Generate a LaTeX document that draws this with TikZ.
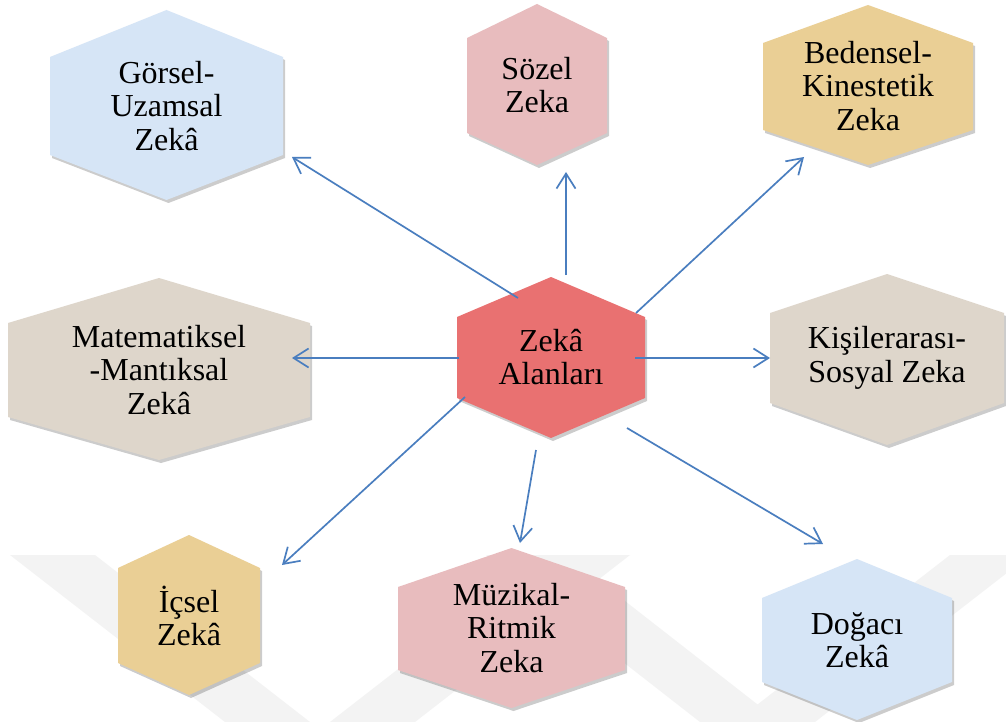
\documentclass[tikz,border=0pt]{standalone}
\usepackage{fontspec}
\setmainfont{Liberation Serif}
\usetikzlibrary{arrows.meta,shadows}
\definecolor{cblue}{HTML}{D6E5F6}
\definecolor{cpink}{HTML}{E8BCBE}
\definecolor{ctan}{HTML}{EACF95}
\definecolor{cbeige}{HTML}{DED6CB}
\definecolor{cred}{HTML}{E97171}
\definecolor{carrow}{HTML}{4A7EBF}
\definecolor{wmark}{HTML}{F3F3F3}
% cx, half width, top, upper corner, lower corner, bottom
\newcommand{\hexpath}[6]{(#1,#3) -- ({#1+#2},#4) -- ({#1+#2},#5) -- (#1,#6) -- ({#1-#2},#5) -- ({#1-#2},#4) -- cycle}
\tikzset{
  hexfill/.style={draw=none, drop shadow={shadow xshift=2pt, shadow yshift=-3pt, opacity=.2, fill=black}},
  lbl/.style={align=center, font=\fontsize{32}{33.5}\selectfont, inner sep=0pt, text=black},
  arr/.style={draw=carrow, line width=1.7pt, -{Straight Barb[length=15pt,width=19pt,line width=1.7pt]}}
}
\begin{document}
\begin{tikzpicture}[x=1pt,y=-1pt]
\useasboundingbox (0,0) rectangle (1006,722);
\fill[white] (0,0) rectangle (1006,722);
% faint watermark
\begin{scope}
\clip (0,0) rectangle (1006,722);
\fill[wmark] (10,555) -- (95,555) -- (310,722) -- (225,722) -- cycle;
\fill[wmark] (330,722) -- (415,722) -- (630,555) -- (545,555) -- cycle;
\fill[wmark] (486,555) -- (566,555) -- (780,722) -- (700,722) -- cycle;
\fill[wmark] (735,722) -- (815,722) -- (1030,555) -- (950,555) -- cycle;
\end{scope}
% hexagons
\fill[hexfill, fill=cblue]  \hexpath{166.5}{116.5}{10}{57}{155}{200};
\fill[hexfill, fill=cpink]  \hexpath{537}{70}{4}{38}{133}{165};
\fill[hexfill, fill=ctan]   \hexpath{868}{105}{5}{43}{130}{165};
\fill[hexfill, fill=cbeige] \hexpath{159}{151}{278}{323}{417}{460};
\fill[hexfill, fill=cred]   \hexpath{551}{94}{277}{317}{398}{438};
\fill[hexfill, fill=cbeige] \hexpath{887}{117}{274}{313}{403}{445};
\fill[hexfill, fill=ctan]   \hexpath{189}{71}{535}{568}{663}{695};
\fill[hexfill, fill=cpink]  \hexpath{511.5}{113.5}{548}{587}{670}{708};
\fill[hexfill, fill=cblue]  \hexpath{857}{95}{559}{598}{682}{720};
% labels
\node[lbl] (gorsel) at (166.5,106) {Görsel-\\Uzamsal\\Zekâ};
\node[lbl] (sozel) at (537,85) {Sözel\\Zeka};
\node[lbl] (bedensel) at (868,86) {Bedensel-\\Kinestetik\\Zeka};
\node[lbl] (mat) at (159,370) {Matematiksel\\-Mantıksal\\Zekâ};
\node[lbl] (merkez) at (551,357) {Zekâ\\Alanları};
\node[lbl] (kisi) at (887,358) {Kişilerarası-\\Sosyal Zeka};
\node[lbl] (icsel) at (189,616) {İçsel\\Zekâ};
\node[lbl] (muzik) at (511.5,628) {Müzikal-\\Ritmik\\Zeka};
\node[lbl] (dogaci) at (857,640) {Doğacı\\Zekâ};
% arrow ends
\coordinate (sG) at (518,298); \coordinate (eG) at (292,157);
\coordinate (sS) at (566,275); \coordinate (eS) at (566,172);
\coordinate (sB) at (636,313); \coordinate (eB) at (804,157);
\coordinate (sM) at (459,358); \coordinate (eM) at (292,358);
\coordinate (sK) at (635,358); \coordinate (eK) at (770,358);
\coordinate (sI) at (465,397); \coordinate (eI) at (282,565);
\coordinate (sZ) at (536,450); \coordinate (eZ) at (520,543);
\coordinate (sD) at (627,428); \coordinate (eD) at (823,544);
\draw[arr] (sG) -- (eG);
\draw[arr] (sS) -- (eS);
\draw[arr] (sB) -- (eB);
\draw[arr] (sM) -- (eM);
\draw[arr] (sK) -- (eK);
\draw[arr] (sI) -- (eI);
\draw[arr] (sZ) -- (eZ);
\draw[arr] (sD) -- (eD);
\end{tikzpicture}
\end{document}
